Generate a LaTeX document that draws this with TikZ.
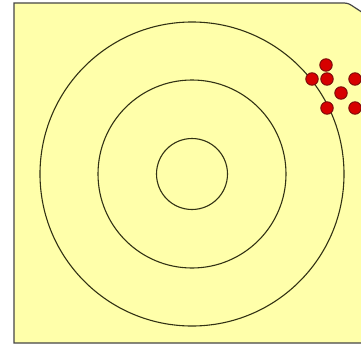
\documentclass[tikz,border=0pt]{standalone}
\definecolor{paper}{RGB}{255,255,170}
\definecolor{edge}{RGB}{70,70,70}
\definecolor{ringline}{RGB}{50,50,20}
\definecolor{shotred}{RGB}{215,0,0}
\definecolor{shotedge}{RGB}{120,10,10}
\begin{document}
\begin{tikzpicture}[x=1pt, y=-1pt,
	ring/.style={draw=ringline, line width=1.1pt, circle, inner sep=0pt},
	shot/.style={circle, fill=shotred, draw=shotedge, line width=0.9pt, minimum size=12.5pt, inner sep=0pt}]
	% Frame of the picture
	\useasboundingbox (0,0) rectangle (361,345);
	\clip (0,0) rectangle (361,345);
	\fill[white] (0,0) rectangle (361,345);

	% Sheet with the cut top right corner
	\draw[fill=paper, draw=edge, line width=1.2pt]
		(14,343) -- (14,3) -- (340,3) .. controls (348,3) .. (354,7) -- (380,24) -- (380,343) -- cycle;

	% Target rings
	\node[ring, minimum size=304pt] (outer) at (192,174) {};
	\node[ring, minimum size=188pt] (middle) at (192,174) {};
	\node[ring, minimum size=71pt] (inner) at (192,174) {};

	% Shots near the outer ring
	\foreach \name/\px/\py in {s1/326/65, s2/312/79, s3/327/79, s4/355/79, s5/341/93, s6/327/108, s7/355/108}
		\node[shot] (\name) at (\px,\py) {};
\end{tikzpicture}
\end{document}
